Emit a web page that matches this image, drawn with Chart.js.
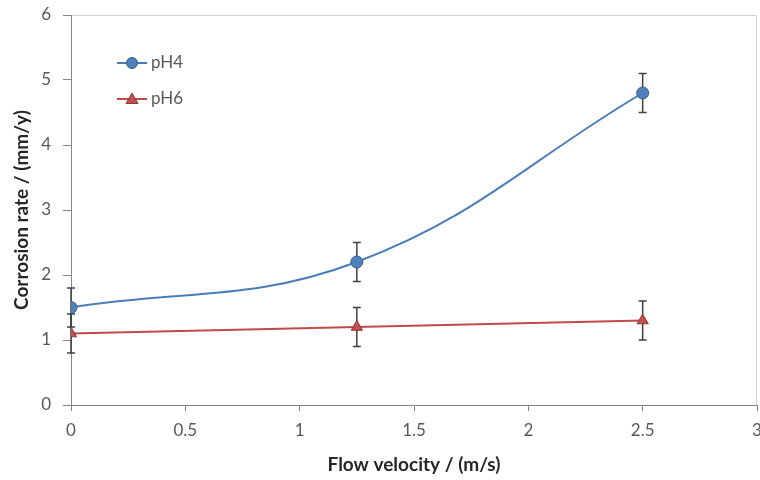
<!DOCTYPE html>
<html>
<head>
<meta charset="utf-8">
<script src="https://cdn.jsdelivr.net/npm/chart.js@4.4.1/dist/chart.umd.min.js"></script>
<style>
  html, body { margin: 0; padding: 0; background: #ffffff; }
  #wrap { width: 760px; height: 480px; }
</style>
</head>
<body>
<div id="wrap"><canvas id="c" width="760" height="480"></canvas></div>
<script>
// ---- data ----
const velocities = [0, 1.25, 2.5];
const pH4Values = [1.5, 2.2, 4.8];
const pH4Errors = [0.3, 0.3, 0.3];
const pH6Values = [1.1, 1.2, 1.3];
const pH6Errors = [0.3, 0.3, 0.3];
const seriesNames = ['pH4', 'pH6'];
const xTickValues = [0, 0.5, 1, 1.5, 2, 2.5, 3];
const xTickLabels = ['0', '0.5', '1', '1.5', '2', '2.5', '3'];
const yTickValues = [0, 1, 2, 3, 4, 5, 6];
const yTickLabels = ['0', '1', '2', '3', '4', '5', '6'];
const xTitle = 'Flow velocity / (m/s)';
const yTitle = 'Corrosion rate / (mm/y)';

const FONT = 'Lato, "Open Sans", sans-serif';
const TEXT = '#595959';
const AXIS = '#868686';

function toPoints(xs, ys) { return xs.map((x, i) => ({ x: x, y: ys[i] })); }
const noPadding = () => ({ left: 0, top: 0, right: 0, bottom: 0 });

const errorBars = {
  id: 'errorBars',
  beforeDatasetsDraw(chart) {
    const ctx = chart.ctx;
    const xs = chart.scales.x, ys = chart.scales.y;
    chart.data.datasets.forEach((ds) => {
      if (!ds.errors) return;
      ctx.save();
      ctx.strokeStyle = '#404040';
      ctx.lineWidth = 1.5;
      ds.data.forEach((p, i) => {
        const e = ds.errors[i];
        const px = xs.getPixelForValue(p.x);
        const top = ys.getPixelForValue(p.y + e);
        const bot = ys.getPixelForValue(p.y - e);
        ctx.beginPath();
        ctx.moveTo(px, top); ctx.lineTo(px, bot);
        ctx.moveTo(px - 4, top); ctx.lineTo(px + 4, top);
        ctx.moveTo(px - 4, bot); ctx.lineTo(px + 4, bot);
        ctx.stroke();
      });
      ctx.restore();
    });
  }
};

const frame = {
  id: 'frame',
  beforeDraw(chart) {
    const a = chart.chartArea, ctx = chart.ctx;
    ctx.save();
    ctx.strokeStyle = '#d0d0d0';
    ctx.lineWidth = 1;
    ctx.beginPath();
    ctx.moveTo(a.left, a.top + 0.5); ctx.lineTo(a.right - 0.5, a.top + 0.5);
    ctx.lineTo(a.right - 0.5, a.bottom);
    ctx.stroke();
    ctx.restore();
  }
};

const insideLegend = {
  id: 'insideLegend',
  afterDraw(chart) {
    const ctx = chart.ctx;
    const rows = [{ y: 63 }, { y: 99 }];
    chart.data.datasets.forEach((ds, i) => {
      const y = rows[i].y;
      ctx.save();
      ctx.strokeStyle = ds.borderColor;
      ctx.lineWidth = 2;
      ctx.beginPath();
      ctx.moveTo(117, y); ctx.lineTo(147, y);
      ctx.stroke();
      ctx.fillStyle = ds.pointBackgroundColor;
      ctx.strokeStyle = ds.pointBorderColor;
      ctx.lineWidth = 1;
      ctx.beginPath();
      if (ds.pointStyle === 'triangle') {
        ctx.moveTo(132, y - 6); ctx.lineTo(138, y + 4.5); ctx.lineTo(126, y + 4.5); ctx.closePath();
      } else {
        ctx.arc(132, y, 5.5, 0, Math.PI * 2);
      }
      ctx.fill(); ctx.stroke();
      ctx.fillStyle = TEXT;
      ctx.font = '17px ' + FONT;
      ctx.textBaseline = 'middle';
      ctx.textAlign = 'left';
      ctx.fillText(ds.label, 151, y);
      ctx.restore();
    });
  }
};

new Chart(document.getElementById('c'), {
  type: 'line',
  data: {
    datasets: [
      {
        label: seriesNames[0],
        data: toPoints(velocities, pH4Values),
        errors: pH4Errors,
        borderColor: '#4A7EBB',
        borderWidth: 2,
        tension: 0.4,
        pointStyle: 'circle',
        pointRadius: 6,
        pointHoverRadius: 6,
        pointBackgroundColor: '#4F81BD',
        pointBorderColor: '#385D8A',
        pointBorderWidth: 1,
        fill: false
      },
      {
        label: seriesNames[1],
        data: toPoints(velocities, pH6Values),
        errors: pH6Errors,
        borderColor: '#BE4B48',
        borderWidth: 2,
        tension: 0.4,
        pointStyle: 'triangle',
        pointRadius: 6.5,
        pointHoverRadius: 6.5,
        pointBackgroundColor: '#C0504D',
        pointBorderColor: '#8C3836',
        pointBorderWidth: 1,
        fill: false
      }
    ]
  },
  options: {
    responsive: false,
    animation: false,
    layout: { autoPadding: false, padding: { top: 15, right: 3, left: 0, bottom: 0 } },
    plugins: { legend: { display: false }, tooltip: { enabled: false } },
    scales: {
      x: {
        type: 'linear',
        min: 0, max: 3,
        afterBuildTicks: (s) => { s.ticks = xTickValues.map(v => ({ value: v })); },
        afterFit: (s) => { s.height = 75; s.paddingLeft = 0; s.paddingRight = 0; s.getPadding = noPadding; },
        grid: { drawOnChartArea: false, drawTicks: true, tickLength: 6, color: AXIS },
        border: { color: AXIS, width: 1 },
        ticks: {
          color: TEXT, font: { family: FONT, size: 17 }, padding: 9, maxRotation: 0,
          callback: (v, i) => xTickLabels[i]
        },
        title: { display: true, text: xTitle, color: '#262626', font: { family: FONT, size: 19, weight: 'bold' }, padding: { top: 0, bottom: 4 } }
      },
      y: {
        type: 'linear',
        min: 0, max: 6,
        afterBuildTicks: (s) => { s.ticks = yTickValues.map(v => ({ value: v })); },
        afterFit: (s) => { s.width = 71; s.paddingTop = 0; s.paddingBottom = 0; s.getPadding = noPadding; },
        grid: { drawOnChartArea: false, drawTicks: true, tickLength: 8, color: AXIS },
        border: { color: AXIS, width: 1 },
        ticks: {
          color: TEXT, font: { family: FONT, size: 17 }, padding: 12,
          callback: (v, i) => yTickLabels[i]
        },
        title: { display: true, text: yTitle, color: '#262626', font: { family: FONT, size: 19, weight: 'bold' }, padding: { top: 10, bottom: 0 } }
      }
    }
  },
  plugins: [frame, errorBars, insideLegend]
});
</script>
</body>
</html>
